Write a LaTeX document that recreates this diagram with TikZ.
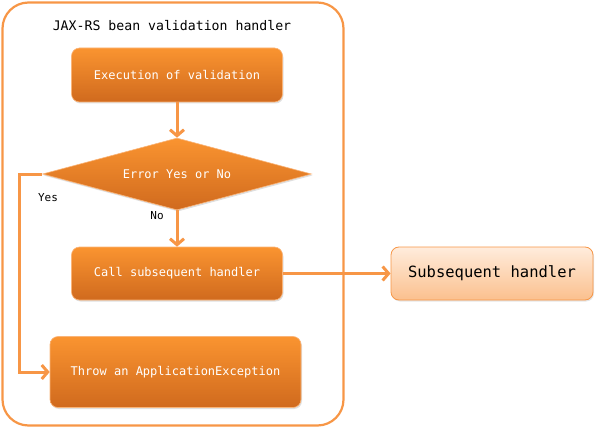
\documentclass[tikz,border=0pt]{standalone}
\usepackage{fontspec}
\setmonofont{DejaVu Sans Mono}
\usetikzlibrary{shapes.geometric,arrows.meta,shadows}
\definecolor{lineor}{RGB}{247,150,70}
\definecolor{otop}{RGB}{250,148,48}
\definecolor{obot}{RGB}{208,106,30}
\definecolor{oedge}{RGB}{250,180,120}
\definecolor{ltop}{RGB}{255,236,220}
\definecolor{lbot}{RGB}{251,192,142}
\tikzset{
  procbox/.style={draw=oedge, line width=0.6pt, rounded corners=8pt, top color=otop, bottom color=obot,
    text=white, font=\ttfamily\fontsize{12}{14}\selectfont, inner sep=0pt,
    drop shadow={opacity=0.25, shadow xshift=1pt, shadow yshift=-1.5pt}},
  decbox/.style={diamond, aspect=4, draw=oedge, line width=0.6pt, top color=otop, bottom color=obot,
    text=white, font=\ttfamily\fontsize{12}{14}\selectfont, inner sep=0pt,
    minimum width=269pt, minimum height=72pt,
    drop shadow={opacity=0.25, shadow xshift=1pt, shadow yshift=-1.5pt}},
  extbox/.style={draw=lineor, line width=0.8pt, rounded corners=8pt, top color=ltop, bottom color=lbot,
    text=black, font=\ttfamily\fontsize{15.5}{18}\selectfont, inner sep=0pt,
    drop shadow={opacity=0.2, shadow xshift=1pt, shadow yshift=-1.5pt}},
  flow/.style={draw=lineor, line width=3pt, -{Straight Barb[length=6pt,width=14pt,line width=3pt]}},
  lbl/.style={font=\ttfamily\fontsize{11}{13}\selectfont, text=black, inner sep=0pt},
}
\begin{document}
\begin{tikzpicture}[x=1pt,y=-1pt]
\useasboundingbox (0,0) rectangle (598,428);
\node[draw=lineor, line width=2.2pt, rounded corners=26pt, minimum width=341pt, minimum height=423pt, inner sep=0pt] (outer) at (173,214) {};
\node[font=\ttfamily\fontsize{13.2}{16}\selectfont, inner sep=0pt] (title) at (172,26) {JAX-RS bean validation handler};
\node[procbox, minimum width=211pt, minimum height=54pt] (exec) at (177,75) {Execution of validation};
\node[decbox] (dec) at (177,174) {Error Yes or No};
\node[procbox, minimum width=211pt, minimum height=53pt] (call) at (177,273.5) {Call subsequent handler};
\node[procbox, minimum width=251pt, minimum height=71pt] (throw) at (175.5,372) {Throw an ApplicationException};
\node[extbox, minimum width=202pt, minimum height=53pt] (sub) at (492,273.5) {Subsequent handler};
\coordinate (bend) at (19,174);
\node[lbl] (yes) at (48,198) {Yes};
\node[lbl] (no) at (157,216) {No};
\draw[flow] (exec.south) -- (dec.north);
\draw[flow] (dec.south) -- (call.north);
\draw[flow] (call.east) -- (sub.west);
\draw[flow] (dec.west) -- (bend) |- (throw.west);
\end{tikzpicture}
\end{document}
